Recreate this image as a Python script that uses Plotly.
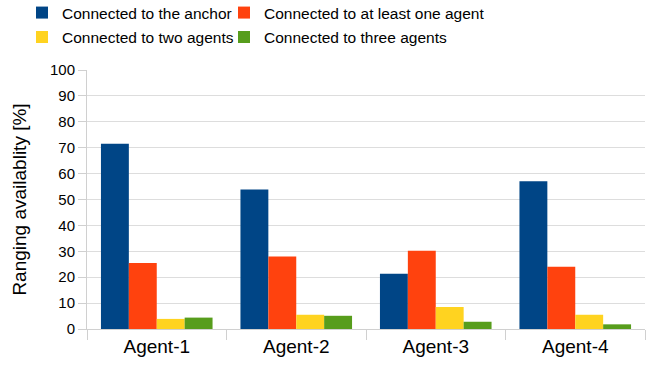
import plotly.graph_objects as go

# Ranging availability per agent, in percent
agents = ["Agent-1", "Agent-2", "Agent-3", "Agent-4"]
anchor = [71.5, 53.9, 21.3, 57.0]
at_least_one = [25.5, 28.0, 30.2, 24.0]
two_agents = [3.9, 5.5, 8.5, 5.5]
three_agents = [4.4, 5.1, 2.8, 1.8]

series_names = [
    "Connected to the anchor",
    "Connected to at least one agent",
    "Connected to two agents",
    "Connected to three agents",
]
series_values = [anchor, at_least_one, two_agents, three_agents]
series_colors = ["#004586", "#ff420e", "#ffd320", "#579d1c"]
# one legend per entry so the 2x2 key lines up in columns
series_legend = ["legend", "legend2", "legend3", "legend4"]

y_ticks = list(range(0, 101, 10))

fig = go.Figure()
for name, vals, col, leg in zip(series_names, series_values, series_colors, series_legend):
    fig.add_trace(go.Bar(
        x=agents, y=vals, name=name, legend=leg,
        marker=dict(color=col, line=dict(width=0)),
    ))

W, H = 655, 365
ml, mr, mt, mb = 86.5, 9.5, 70, 36

legend_style = dict(
    orientation="h",
    xref="container", yref="container",
    xanchor="left", yanchor="middle",
    font=dict(family="Liberation Sans, Arial, sans-serif", size=15.5, color="#000000"),
    itemclick=False, itemdoubleclick=False,
    bgcolor="rgba(0,0,0,0)", borderwidth=0,
)

# key positions in page pixels: column left edges and row centres
col_x = [22 / W, 224 / W]
row_y = [1 - 13 / H, 1 - 37.5 / H]

fig.update_layout(
    width=W, height=H,
    margin=dict(l=ml, r=mr, t=mt, b=mb, pad=0, autoexpand=False),
    paper_bgcolor="white", plot_bgcolor="white",
    barmode="group", bargap=0.2, bargroupgap=0,
    font=dict(family="Liberation Sans, Arial, sans-serif", color="#000000"),
    legend=dict(legend_style, x=col_x[0], y=row_y[0]),
    legend2=dict(legend_style, x=col_x[1], y=row_y[0]),
    legend3=dict(legend_style, x=col_x[0], y=row_y[1]),
    legend4=dict(legend_style, x=col_x[1], y=row_y[1]),
    showlegend=True,
)

fig.update_xaxes(
    type="category",
    tickson="boundaries",
    ticks="outside", ticklen=10, tickcolor="#d0d0d0", tickwidth=1,
    showline=True, linecolor="#d0d0d0", linewidth=1,
    showgrid=False,
    tickfont=dict(size=19),
)
fig.update_yaxes(
    range=[0, 100],
    tickvals=y_ticks,
    ticks="outside", ticklen=8, tickcolor="#d0d0d0", tickwidth=1,
    showline=True, linecolor="#d0d0d0", linewidth=1,
    showgrid=True, gridcolor="#dddddd", gridwidth=1,
    zeroline=False,
    tickfont=dict(size=15),
    title=dict(text="Ranging availablity [%]", font=dict(size=19), standoff=18),
)

fig.write_html("out.html")
